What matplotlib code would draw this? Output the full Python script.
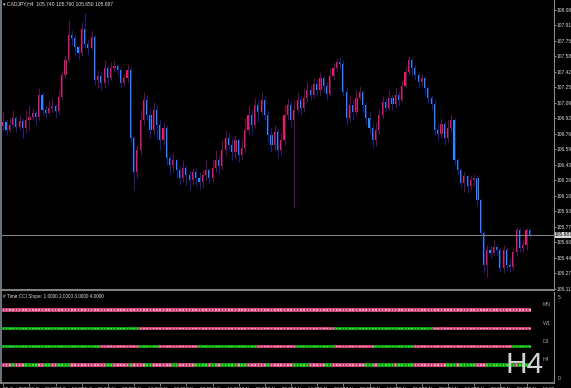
import numpy as np
import matplotlib.pyplot as plt
from matplotlib.transforms import blended_transform_factory

plt.rcParams['font.family'] = ['Liberation Sans', 'DejaVu Sans']
narrow = ['Liberation Sans Narrow', 'Liberation Sans', 'DejaVu Sans']

symbol = "CADJPY,H4"
indicator_name = "# Time CCI Slope: 1.0000 2.0000 3.0000 4.0000"

# H4 candles, oldest first (open of each bar = previous close)
first_open = 106.84
closes = [
    106.89, 106.80, 106.86, 106.93, 106.83, 106.90, 106.82, 106.91, 106.94, 106.98,
    106.94, 107.17, 107.02, 106.98, 107.04, 107.06, 107.00, 107.15, 107.39, 107.55,
    107.81, 107.78, 107.69, 107.62, 107.88, 107.72, 107.68, 107.79, 107.33, 107.38,
    107.30, 107.46, 107.36, 107.46, 107.48, 107.44, 107.30, 107.36, 107.44, 106.72,
    106.35, 106.59, 106.91, 107.12, 106.96, 106.80, 107.02, 106.86, 106.70, 106.82,
    106.50, 106.43, 106.48, 106.38, 106.29, 106.40, 106.32, 106.27, 106.35, 106.29,
    106.25, 106.32, 106.38, 106.29, 106.40, 106.48, 106.42, 106.59, 106.72, 106.64,
    106.57, 106.70, 106.54, 106.61, 106.80, 106.96, 106.86, 107.07, 106.99, 107.12,
    106.96, 106.75, 106.64, 106.78, 106.59, 106.70, 106.96, 107.07, 106.91, 107.02,
    107.12, 107.04, 107.14, 107.23, 107.17, 107.29, 107.23, 107.36, 107.27, 107.19,
    107.38, 107.46, 107.53, 107.50, 107.21, 106.93, 107.07, 106.99, 107.14, 107.21,
    107.07, 106.93, 106.82, 106.70, 106.80, 106.96, 107.10, 107.04, 107.14, 107.08,
    107.17, 107.12, 107.27, 107.42, 107.55, 107.46, 107.39, 107.31, 107.36, 107.25,
    107.14, 107.08, 106.80, 106.76, 106.87, 106.72, 106.82, 106.91, 106.48, 106.38,
    106.24, 106.31, 106.21, 106.27, 106.29, 106.06, 105.71, 105.37, 105.52, 105.49,
    105.56, 105.52, 105.33, 105.52, 105.37, 105.34, 105.50, 105.74, 105.55, 105.58,
    105.74, 105.687]
highs = [
    106.99, 106.91, 106.93, 107.02, 106.95, 106.96, 106.93, 107.02, 107.07, 107.04,
    107.02, 107.25, 107.21, 107.07, 107.12, 107.14, 107.08, 107.23, 107.44, 107.60,
    107.97, 107.87, 107.81, 107.71, 107.95, 108.05, 107.76, 107.87, 107.81, 107.44,
    107.42, 107.55, 107.48, 107.53, 107.55, 107.50, 107.46, 107.40, 107.50, 107.46,
    106.74, 106.64, 107.02, 107.21, 107.17, 107.04, 107.10, 107.07, 106.91, 106.89,
    106.86, 106.54, 106.57, 106.50, 106.43, 106.48, 106.43, 106.38, 106.40, 106.40,
    106.35, 106.38, 106.48, 106.40, 106.48, 106.59, 106.54, 106.70, 106.80, 106.78,
    106.72, 106.75, 106.72, 106.70, 106.93, 107.07, 107.02, 107.14, 107.12, 107.21,
    107.16, 107.02, 106.82, 106.86, 106.82, 106.78, 107.07, 107.14, 107.12, 107.12,
    107.21, 107.16, 107.25, 107.31, 107.28, 107.36, 107.33, 107.42, 107.38, 107.31,
    107.46, 107.53, 107.57, 107.58, 107.55, 107.25, 107.17, 107.12, 107.23, 107.27,
    107.23, 107.10, 106.99, 106.87, 106.89, 107.04, 107.16, 107.14, 107.23, 107.17,
    107.25, 107.21, 107.33, 107.48, 107.59, 107.57, 107.49, 107.42, 107.40, 107.38,
    107.27, 107.17, 107.12, 106.87, 106.93, 106.89, 106.91, 106.96, 106.93, 106.50,
    106.40, 106.35, 106.32, 106.31, 106.33, 106.31, 106.08, 105.74, 105.58, 105.57,
    105.63, 105.59, 105.55, 105.58, 105.55, 105.44, 105.55, 105.77, 105.76, 105.63,
    105.76, 105.76]
lows = [
    106.80, 106.75, 106.78, 106.83, 106.78, 106.80, 106.72, 106.77, 106.80, 106.91,
    106.86, 106.91, 106.96, 106.93, 106.96, 106.99, 106.93, 106.96, 107.12, 107.36,
    107.53, 107.71, 107.60, 107.55, 107.59, 107.68, 107.60, 107.65, 107.28, 107.25,
    107.23, 107.25, 107.28, 107.33, 107.42, 107.39, 107.25, 107.27, 107.31, 106.67,
    106.16, 106.29, 106.54, 106.86, 106.91, 106.72, 106.75, 106.70, 106.59, 106.64,
    106.43, 106.32, 106.35, 106.29, 106.22, 106.25, 106.22, 106.16, 106.22, 106.21,
    106.16, 106.19, 106.27, 106.23, 106.25, 106.35, 106.33, 106.38, 106.54, 106.59,
    106.48, 106.50, 106.46, 106.48, 106.57, 106.75, 106.75, 106.82, 106.89, 106.96,
    106.91, 106.67, 106.57, 106.59, 106.50, 106.54, 106.64, 106.91, 106.82, 105.97,
    106.99, 106.96, 106.99, 107.10, 107.12, 107.14, 107.16, 107.17, 107.21, 107.12,
    107.16, 107.33, 107.42, 107.44, 107.16, 106.86, 106.89, 106.91, 106.95, 107.12,
    106.99, 106.86, 106.76, 106.61, 106.63, 106.76, 106.93, 106.99, 107.02, 107.02,
    107.04, 107.06, 107.10, 107.25, 107.39, 107.39, 107.33, 107.25, 107.28, 107.19,
    107.08, 107.02, 106.75, 106.70, 106.72, 106.64, 106.67, 106.78, 106.43, 106.32,
    106.19, 106.14, 106.13, 106.16, 106.21, 106.00, 105.68, 105.29, 105.24, 105.44,
    105.47, 105.46, 105.29, 105.28, 105.31, 105.29, 105.31, 105.47, 105.50, 105.50,
    105.52, 105.65]

price_ticks = [105.110, 105.275, 105.440, 105.605, 105.770, 105.935, 106.100,
               106.265, 106.430, 106.595, 106.760, 106.925, 107.090, 107.255,
               107.420, 107.585, 107.750, 107.915, 108.080]

date_labels = ["25 Oct 2023", "26 Oct 08:00", "27 Oct 16:00", "31 Oct 00:00",
               "1 Nov 08:00", "2 Nov 16:00", "6 Nov 00:00", "7 Nov 08:00",
               "8 Nov 16:00", "10 Nov 00:00", "13 Nov 08:00", "14 Nov 16:00",
               "16 Nov 00:00", "17 Nov 08:00", "20 Nov 16:00", "22 Nov 00:00",
               "23 Nov 08:00", "24 Nov 16:00", "28 Nov 00:00", "29 Nov 08:00",
               "30 Nov 16:00"]

# CCI slope state per timeframe as runs of (g = rising, p = falling, bar count)
tf_names = ["MN", "W1", "D1", "H4"]
mn_runs = [("p", 162)]
w1_runs = [("g", 42), ("p", 60), ("g", 30), ("p", 30)]
d1_runs = [("g", 30), ("p", 12), ("g", 6), ("p", 12), ("g", 18), ("p", 12),
           ("g", 12), ("p", 12), ("g", 12), ("p", 30), ("g", 6)]
h4_runs = [("p", 3), ("g", 1), ("p", 3), ("g", 4), ("p", 2), ("g", 2), ("p", 2),
           ("g", 4), ("p", 11), ("g", 2), ("p", 5), ("g", 1), ("p", 4), ("g", 2),
           ("p", 6), ("g", 2), ("p", 5), ("g", 4), ("p", 1), ("g", 2), ("p", 1),
           ("g", 5), ("p", 1), ("g", 2), ("p", 6), ("g", 1), ("p", 7), ("g", 5),
           ("p", 5), ("g", 2), ("p", 10), ("g", 3), ("p", 1), ("g", 5), ("p", 1),
           ("g", 5), ("p", 10), ("g", 3), ("p", 1), ("g", 5), ("p", 3), ("g", 9),
           ("p", 1), ("g", 4)]

W, H = 571, 388
fig = plt.figure(figsize=(W / 100, H / 100), dpi=100, facecolor='black')


def px_axes(x0, y0, x1, y1):
    a = fig.add_axes([x0 / W, 1 - y1 / H, (x1 - x0) / W, (y1 - y0) / H])
    a.set_facecolor('black')
    return a


bar_px = 3.27
ax = px_axes(1, 0, 554, 290)
ax2 = px_axes(1, 292, 554, 383)
x_lo = -(3.3 - 1) / bar_px
x_hi = x_lo + 553 / bar_px

c = np.array(closes)
o = np.array([first_open] + closes[:-1])
hi = np.array(highs)
lo = np.array(lows)
x = np.arange(len(c))
up = c >= o

# wicks then bodies
ax.vlines(x[up], lo[up], hi[up], color='#5e1050', lw=0.75)
ax.vlines(x[~up], lo[~up], hi[~up], color='#18208e', lw=0.75)
body = np.maximum(np.abs(c - o), 0.009)
ax.bar(x, body, bottom=np.minimum(o, c), width=0.66,
       color=np.where(up, '#f0185c', '#1e90ff'), linewidth=0)

ax.axhline(c[-1], color='#808080', lw=0.75)
ax.set_xlim(x_lo, x_hi)
ax.set_ylim(105.099, 108.186)
ax.set_xticks([])
ax.yaxis.tick_right()
ax.set_yticks(price_ticks)
ax.set_yticklabels([f"{v:.3f}" for v in price_ticks], family=narrow)
ax.tick_params(axis='y', colors='#9a9a9a', labelcolor='#e0e0e0', labelsize=3.5,
               length=1.2, width=0.6, pad=0.5)
ax.spines['top'].set_visible(False)
ax.spines['right'].set_color('#8a8a8a')
ax.spines['right'].set_linewidth(0.8)
ax.spines['bottom'].set_color('#808080')
ax.spines['bottom'].set_linewidth(1.5)
ax.spines['left'].set_color('#66737c')
ax.spines['left'].set_linewidth(1.5)

tr = blended_transform_factory(ax.transAxes, ax.transData)
ax.text(1.002, c[-1], f"{c[-1]:.3f}", transform=tr, fontsize=3.5, color='black',
        va='center', ha='left', clip_on=False, family=narrow,
        bbox=dict(boxstyle='square,pad=0.12', fc='#d8d8d8', ec='none'))

fig.text(3 / W, 1 - 1.5 / H,
         f"\u25be {symbol}  {o[-1]:.3f} {hi[-1]:.3f} {lo[-1]:.3f} {c[-1]:.3f}",
         va='top', ha='left', fontsize=3.6, color='#e0e0e0', family=narrow + ['DejaVu Sans'])

# indicator window
ax2.set_xlim(x_lo, x_hi)
ax2.set_ylim(0.02, 4.98)
colors = {'g': ('#12a012', '#3ee03e'), 'p': ('#c84878', '#f598bc')}
for k, runs in enumerate([mn_runs, w1_runs, d1_runs, h4_runs]):
    level = 4 - k
    states = ''.join(s * n for s, n in runs)
    base = [colors[s][0] for s in states]
    dot = [colors[s][1] for s in states]
    xs = np.arange(len(states))
    ax2.scatter(xs, np.full(len(xs), level), marker='s', s=6.2, c=base, linewidths=0)
    ax2.scatter(xs, np.full(len(xs), level), marker='s', s=1.3, c=dot, linewidths=0)
    ax2.text((543 - 1) / 553, level + 0.28, tf_names[k],
             transform=blended_transform_factory(ax2.transAxes, ax2.transData),
             fontsize=3.8, color='#a0a0a0', ha='left', va='center', family=narrow)

ax2.text(0.003, 0.975, indicator_name, transform=ax2.transAxes, va='top',
         ha='left', fontsize=3.4, color='#d8d8d8', family=narrow)
ax2.set_yticks([])
ax2.spines['top'].set_visible(False)
ax2.spines['right'].set_color('#8a8a8a')
ax2.spines['right'].set_linewidth(0.8)
ax2.spines['bottom'].set_color('#8a8a8a')
ax2.spines['bottom'].set_linewidth(1.2)
ax2.spines['left'].set_color('#66737c')
ax2.spines['left'].set_linewidth(1.5)
ax2.text(1.006, 0.97, "5", transform=ax2.transAxes, fontsize=3.6, color='#c0c0c0',
         va='top', ha='left')
ax2.text(1.006, 0.02, "0", transform=ax2.transAxes, fontsize=3.6, color='#c0c0c0',
         va='bottom', ha='left')

ax2.set_xticks(x[::8])
ax2.set_xticklabels(date_labels, ha='left', family=narrow)
ax2.tick_params(axis='x', colors='#9a9a9a', labelcolor='#d8d8d8', labelsize=3.4,
                length=2, width=0.6, pad=0.8)

fig.text(506 / W, 1 - 373 / H, "H4", fontsize=21.5, color='#d2d2d2',
         va='baseline', ha='left', family=['Liberation Sans'])

fig.savefig('out.png', dpi=100, facecolor='black')
